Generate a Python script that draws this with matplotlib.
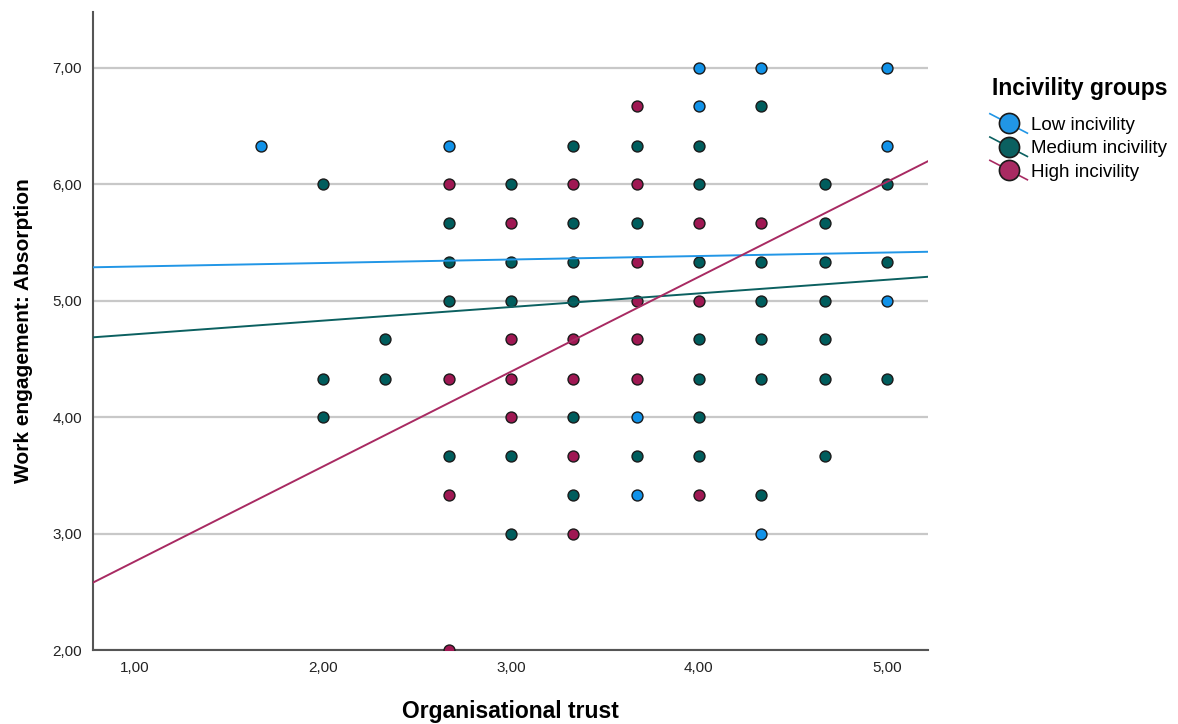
import numpy as np
import matplotlib
matplotlib.use('Agg')
import matplotlib.pyplot as plt
from matplotlib.lines import Line2D
from matplotlib.legend_handler import HandlerBase
from matplotlib.ticker import FuncFormatter

plt.rcParams['font.family'] = ['Liberation Sans', 'DejaVu Sans']

# scatter data per incivility group (organisational trust, absorption)
low_x = [1.67, 2.67, 3.67, 3.67, 4.00, 4.00, 4.33, 4.33, 5.00, 5.00, 5.00]
low_y = [6.33, 6.33, 4.00, 3.33, 7.00, 6.67, 7.00, 3.00, 7.00, 6.33, 5.00]

med_x = [2.00, 2.00, 2.00,
         2.33, 2.33,
         2.67, 2.67, 2.67, 2.67,
         3.00, 3.00, 3.00, 3.00, 3.00,
         3.33, 3.33, 3.33, 3.33, 3.33, 3.33,
         3.67, 3.67, 3.67,
         4.00, 4.00, 4.00, 4.00, 4.00, 4.00, 4.00,
         4.33, 4.33, 4.33, 4.33, 4.33, 4.33,
         4.67, 4.67, 4.67, 4.67, 4.67, 4.67, 4.67,
         5.00, 5.00, 5.00]
med_y = [6.00, 4.33, 4.00,
         4.67, 4.33,
         5.67, 5.33, 5.00, 3.67,
         6.00, 5.33, 5.00, 3.67, 3.00,
         6.33, 5.67, 5.33, 5.00, 4.00, 3.33,
         6.33, 5.67, 3.67,
         6.33, 6.00, 5.33, 4.67, 4.33, 4.00, 3.67,
         6.67, 5.33, 5.00, 4.67, 4.33, 3.33,
         6.00, 5.67, 5.33, 5.00, 4.67, 4.33, 3.67,
         6.00, 5.33, 4.33]

high_x = [2.67, 2.67, 2.67, 2.67,
          3.00, 3.00, 3.00, 3.00,
          3.33, 3.33, 3.33, 3.33, 3.33,
          3.67, 3.67, 3.67, 3.67, 3.67, 3.67,
          4.00, 4.00, 4.00,
          4.33]
high_y = [6.00, 4.33, 3.33, 2.00,
          5.67, 4.67, 4.33, 4.00,
          6.00, 4.67, 4.33, 3.67, 3.00,
          6.67, 6.00, 5.33, 5.00, 4.67, 4.33,
          5.67, 5.00, 3.33,
          5.67]

# fit lines (intercept, slope)
group_names = ['Low incivility', 'Medium incivility', 'High incivility']
intercepts = [5.264, 4.595, 1.947]
slopes = [0.030, 0.117, 0.8145]
colors = ['#1192e8', '#005d5d', '#9f1853']
line_colors = ['#2196e6', '#0b6060', '#a82a62']

xmin, xmax = 0.776, 5.22
ymin, ymax = 2.0, 7.48

fig = plt.figure(figsize=(11.78, 7.24), dpi=100)
ax = fig.add_axes([93 / 1178, 1 - 650 / 724, (928 - 93) / 1178, (650 - 12) / 724])

groups = [(low_x, low_y), (med_x, med_y), (high_x, high_y)]
for (gx, gy), c in zip(groups, colors):
    ax.scatter(gx, gy, s=62, color=c, edgecolor='#1a1a1a', linewidth=1.0, zorder=3)

xs = np.array([xmin, xmax])
for b0, b1, c in zip(intercepts, slopes, line_colors):
    ax.plot(xs, b0 + b1 * xs, color=c, lw=1.4, zorder=4)

ax.set_xlim(xmin, xmax)
ax.set_ylim(ymin, ymax)
ax.set_xticks([1, 2, 3, 4, 5])
ax.set_yticks([2, 3, 4, 5, 6, 7])
fmt = FuncFormatter(lambda v, p: f'{v:.2f}'.replace('.', ','))
ax.xaxis.set_major_formatter(fmt)
ax.yaxis.set_major_formatter(fmt)
ax.tick_params(length=0, labelsize=11, colors='#222222', pad=8)
ax.yaxis.grid(True, color='#c8c8c8', lw=1.6, zorder=0)
ax.set_axisbelow(True)
for s in ['top', 'right']:
    ax.spines[s].set_visible(False)
for s in ['left', 'bottom']:
    ax.spines[s].set_color('#555555')
    ax.spines[s].set_linewidth(1.5)

ax.set_xlabel('Organisational trust', fontsize=16.5, fontweight='bold', labelpad=18)
ax.set_ylabel('Work engagement: Absorption', fontsize=15, fontweight='bold', labelpad=14)


class DiagHandler(HandlerBase):
    def create_artists(self, legend, orig_handle, xdescent, ydescent,
                       width, height, fontsize, trans):
        c = orig_handle.get_color()
        x0, x1 = -xdescent, -xdescent + width
        yc = -ydescent + height / 2
        ln = Line2D([x0, x1], [yc + 7, yc - 7], color=c, lw=1.2, transform=trans)
        mk = Line2D([(x0 + x1) / 2], [yc], marker='o', ms=14.5, ls='none',
                    markerfacecolor=c, markeredgecolor='#1a1a1a', markeredgewidth=1.2,
                    transform=trans)
        return [ln, mk]


fig.text(992 / 1178, 1 - 88 / 724, 'Incivility groups', fontsize=16.5,
         fontweight='bold', ha='left', va='center')

handles = [Line2D([], [], color=c) for c in line_colors]
leg = fig.legend(handles, group_names, loc='upper left',
                 bbox_to_anchor=(973 / 1178, 1 - 100 / 724), frameon=False,
                 fontsize=13.5, handlelength=2.0, handletextpad=0.2,
                 labelspacing=0.33, handler_map={Line2D: DiagHandler()})

fig.savefig('out.png', dpi=100)
